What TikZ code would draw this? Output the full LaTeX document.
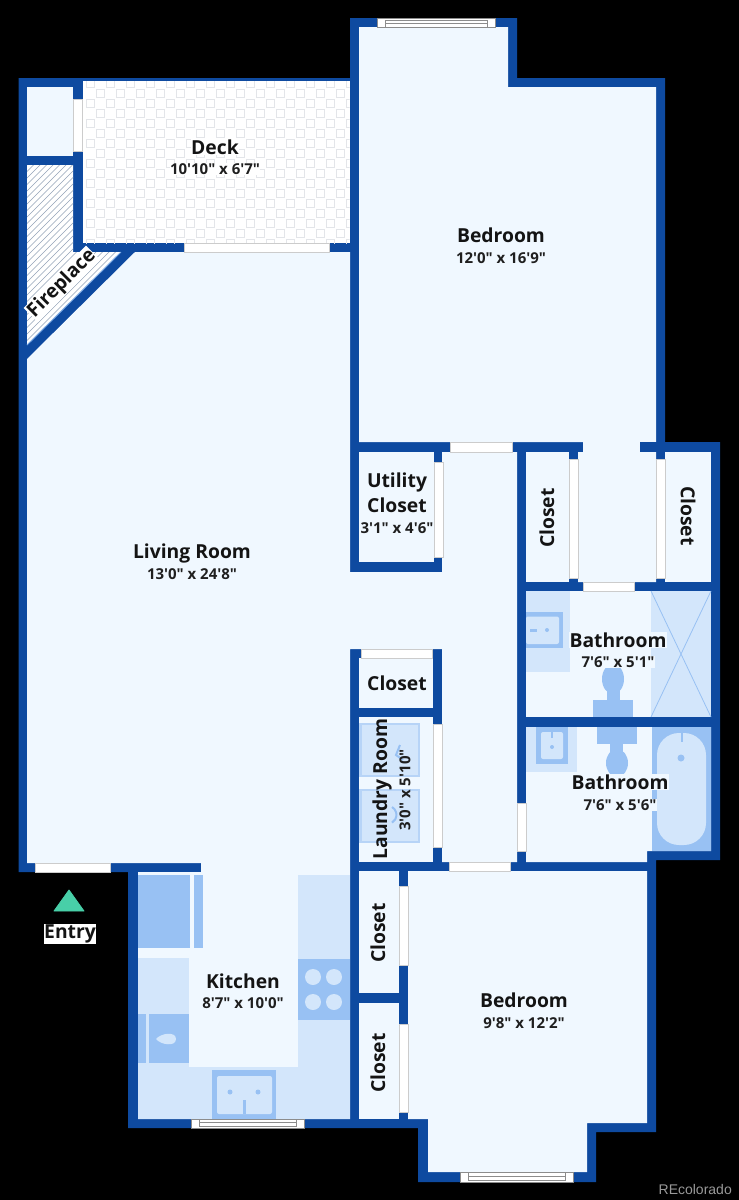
\documentclass[tikz,border=0pt]{standalone}
\usepackage{fontspec}
\newfontfamily\opensans{Open Sans}
\newfontfamily\reco{Liberation Sans}
\definecolor{wall}{HTML}{0E4AA0}
\definecolor{room}{HTML}{F0F8FF}
\definecolor{counter}{HTML}{D3E6FB}
\definecolor{fixture}{HTML}{98C1F3}
\definecolor{teal}{HTML}{48CFA8}
\definecolor{tile}{HTML}{E3E5E9}
\definecolor{hatch}{HTML}{93A3B8}
\tikzset{
  x=1pt,y=-1pt,
  wallshape/.style={fill=wall,draw=none},
  roomshape/.style={fill=room,draw=none},
  doorway/.style={fill=white,draw=black!20,line width=.5pt},
  counterbox/.style={fill=counter,draw=none},
  fixturebox/.style={fill=fixture,draw=none},
  windowframe/.style={fill=white,draw=black!45,line width=.5pt},
  roomname/.style={font=\opensans\bfseries\fontsize{19.3}{21}\selectfont,text=black!92,inner sep=0pt},
  dims/.style={font=\opensans\bfseries\fontsize{15}{17}\selectfont,text=black!88,inner sep=0pt},
  halo/.style={fill=#1,inner sep=.5pt},
}
\begin{document}
\begin{tikzpicture}
\useasboundingbox (0,0) rectangle (739,1200);
\fill[black] (0,0) rectangle (739,1200);
% outer wall mass
\fill[wallshape] (18.5,78) -- (350,78) -- (350,18) -- (517,18) -- (517,78) -- (665,78) -- (665,442) -- (720,442) -- (720,860) -- (656,860) -- (656,1132) -- (596,1132) -- (596,1182) -- (418,1182) -- (418,1128) -- (128,1128) -- (128,872) -- (18.5,872) -- cycle;
% main open region: living room, hall, kitchen
\fill[roomshape] (27,359) -- (135,252) -- (350,252) -- (350,572) -- (442,572) -- (442,452) -- (517,452) -- (517,862) -- (442,862) -- (442,649) -- (350,649) -- (350,1119) -- (138,1119) -- (138,872) -- (201,872) -- (201,863) -- (27,863) -- cycle;
% upper bedroom plus passage
\fill[roomshape] (359,27) -- (508,27) -- (508,87) -- (656,87) -- (656,582) -- (578,582) -- (578,452) -- (583,452) -- (583,442) -- (359,442) -- cycle;
\fill[wallshape] (640,442) rectangle (657,452);
% small rooms
\fill[roomshape] (27,87) rectangle (73,156);
\fill[roomshape] (359,452) rectangle (434,562);
\fill[roomshape] (526,452) rectangle (569,582);
\fill[roomshape] (665,452) rectangle (711,582);
\fill[roomshape] (526,591) rectangle (711,717);
\fill[roomshape] (526,727) -- (711,727) -- (711,851) -- (647,851) -- (647,862) -- (526,862) -- cycle;
\fill[roomshape] (359,658) rectangle (433,708);
\fill[roomshape] (359,717) rectangle (433,862);
\fill[roomshape] (359,871) rectangle (399,993);
\fill[roomshape] (359,1003) rectangle (399,1119);
\fill[roomshape] (408,871) -- (647,871) -- (647,1123) -- (587,1123) -- (587,1172) -- (428,1172) -- (428,1119) -- (408,1119) -- cycle;
% deck
\fill[white] (82.5,81) rectangle (349.5,243);
\begin{scope}
\clip (82.5,81) rectangle (349.5,243);
\foreach \r in {0,...,16}{
  \pgfmathtruncatemacro{\odd}{mod(\r,2)}
  \foreach \c in {0,...,13}{
    \pgfmathsetmacro{\cx}{90+20*\c+10*\odd}
    \pgfmathsetmacro{\cy}{83+10*\r}
    \draw[tile,line width=1pt] (\cx-4,\cy-4) rectangle (\cx+4,\cy+4);
  }
}
\end{scope}
% fireplace
\fill[white] (27,165) -- (73,165) -- (73,252) -- (121,252) -- (27,345) -- cycle;
\begin{scope}
\clip (27,165) -- (73,165) -- (73,252) -- (121,252) -- (27,345) -- cycle;
\foreach \k in {0,...,46}{
  \draw[hatch,line width=.6pt] (20,{172+6.5*\k}) -- (130,{62+6.5*\k});
}
\end{scope}
\draw[fixture!80!wall,line width=1pt] (121,252) -- (27,345);
% doors
\fill[doorway] (73,99) rectangle (82,151);
\fill[doorway] (184,243) rectangle (329,252);
\fill[doorway] (35,863) rectangle (110,872);
\fill[doorway] (450,442) rectangle (512,452);
\fill[doorway] (434,462) rectangle (443,557);
\fill[doorway] (569,459) rectangle (578,578);
\fill[doorway] (656,459) rectangle (665,578);
\fill[doorway] (583,582) rectangle (634,591);
\fill[doorway] (361,649) rectangle (432,658);
\fill[doorway] (433,724) rectangle (442,847);
\fill[doorway] (517,803) rectangle (526,851);
\fill[doorway] (449,862) rectangle (510,871);
\fill[doorway] (399,886) rectangle (408,965);
\fill[doorway] (399,1024) rectangle (408,1112);
% windows
\fill[windowframe] (377,18) rectangle (495,27);
\draw[windowframe] (385,20) rectangle (487,27);
\draw[black!45,line width=.5pt] (385,23.5) -- (487,23.5);
\fill[windowframe] (191,1119) rectangle (304,1128);
\draw[windowframe] (199,1119) rectangle (296,1126);
\draw[black!45,line width=.5pt] (199,1122.5) -- (296,1122.5);
\fill[windowframe] (460,1172) rectangle (573,1182);
\draw[windowframe] (468,1172) rectangle (565,1180);
\draw[black!45,line width=.5pt] (468,1176) -- (565,1176);
% kitchen
\fill[counterbox] (138,958) rectangle (189,1067);
\fill[counterbox] (138,1067) rectangle (350,1119);
\fill[counterbox] (298,875) rectangle (350,1067);
\fill[fixturebox] (138,875) rectangle (190,948);
\fill[fixturebox] (194,875) rectangle (203,948);
\fill[fixturebox] (138,1014) rectangle (146,1063);
\fill[fixturebox] (149,1014) rectangle (189,1063);
\fill[counter] (156,1039) .. controls (161,1033) and (176,1031) .. (176,1039) .. controls (176,1047) and (161,1045) .. (156,1039) -- cycle;
\fill[fixturebox] (298,959) rectangle (350,1020);
\foreach \bx/\by in {313/977,334/977,313/1002,334/1002}{\fill[counter] (\bx,\by) circle[radius=8];}
\fill[fixturebox] (212,1070) rectangle (276,1119);
\fill[counterbox,rounded corners=2pt] (217,1076) rectangle (272,1114);
\fill[fixture] (230,1092) circle[radius=2.5];
\fill[fixture] (258,1092) circle[radius=2.5];
\fill[fixture] (243,1100) rectangle (245.5,1114);
% upper bathroom
\fill[counterbox] (526,591) rectangle (570,672);
\fill[fixturebox] (526,612) rectangle (563,648);
\fill[counterbox,rounded corners=2pt] (526,616.5) rectangle (559,644);
\fill[fixture] (530,629) rectangle (537,631.5);
\fill[fixture] (547,630) circle[radius=2];
\fill[counterbox] (651,591) rectangle (711,717);
\draw[fixture,line width=.8pt] (651,717) -- (711,591) (651,591) -- (711,717);
\fill[fixturebox] (593,700) rectangle (633,717);
\fill[fixture] (607,690) rectangle (620,700);
\fill[fixture] (613,679) ellipse[x radius=11,y radius=15];
% lower bathroom
\fill[counterbox] (526,727) rectangle (577,772);
\fill[fixturebox] (536,727) rectangle (568,764);
\fill[counterbox,rounded corners=2pt] (541,732) rectangle (563,759);
\fill[fixture] (551,732) rectangle (553,738);
\fill[fixture] (552,747) circle[radius=2];
\fill[fixturebox] (597,727) rectangle (637,744);
\fill[fixture] (610,744) rectangle (623,755);
\fill[fixture] (617,763) ellipse[x radius=11,y radius=14];
\fill[fixturebox] (652,727) rectangle (711,851);
\fill[counterbox,rounded corners=22pt] (657,733) rectangle (706,845);
\fill[fixture] (680.5,733) rectangle (682.5,742);
\fill[fixture] (681,758) circle[radius=3.5];
% laundry
\foreach \ya/\yb in {723/777,789/843}{
  \fill[counterbox] (360,\ya) rectangle (420,\yb);
  \draw[fixture!70!white,line width=2.5pt] (360.5,\ya+1) rectangle (419,\yb-1);
}
\draw[fixture,line width=2pt] (400,745) -- (396,755) -- (403,760);
\draw[fixture,line width=2pt] (392,807) arc[start angle=-60,end angle=60,radius=9];
% entry
\fill[teal,line join=round,draw=teal,line width=.8pt] (69,890) -- (84,911) -- (54,911) -- cycle;
% labels
\node[roomname,halo=white] (deck) at (215,147) {Deck};
\node[dims,halo=white] (deckd) at (215,169) {10'10" x 6'7"};
\node[roomname] (bed1) at (501,235) {Bedroom};
\node[dims] (bed1d) at (501,258) {12'0" x 16'9"};
\node[roomname] (liv) at (192,553) {Living Room};
\node[dims] (livd) at (192,574) {13'0" x 24'8"};
\node[roomname] (ut) at (397,482) {Utility};
\node[roomname] (ut2) at (397,505) {Closet};
\node[dims] (utd) at (397,528) {3'1" x 4'6"};
\node[roomname,rotate=90] (c1) at (547,518) {Closet};
\node[roomname,rotate=-90] (c2) at (688,516) {Closet};
\node[roomname,halo=room] (b1) at (618,640) {Bathroom};
\node[dims,halo=room] (b1d) at (618,662) {7'6" x 5'1"};
\node[roomname] (c3) at (397,683) {Closet};
\node[roomname,rotate=90] (lau) at (382,789) {Laundry Room};
\node[dims,rotate=90] (laud) at (405,790) {3'0" x 5'10"};
\node[roomname,halo=room] (b2) at (620,782) {Bathroom};
\node[dims,halo=room] (b2d) at (620,805) {7'6" x 5'6"};
\node[roomname,rotate=90] (c4) at (378,933) {Closet};
\node[roomname,rotate=90] (c5) at (378,1063) {Closet};
\node[roomname] (bed2) at (524,1000) {Bedroom};
\node[dims] (bed2d) at (524,1023) {9'8" x 12'2"};
\node[roomname] (kit) at (243,981) {Kitchen};
\node[dims] (kitd) at (243,1003) {8'7" x 10'0"};
\node[roomname,halo=white,rotate=45] (fire) at (62,284) {Fireplace};
\node[roomname,halo=white] (entry) at (70,934) {Entry};
\node[font=\reco\fontsize{14}{16}\selectfont,text=black!40,anchor=east,inner sep=0pt] (reco) at (732,1189) {REcolorado};
\end{tikzpicture}
\end{document}
